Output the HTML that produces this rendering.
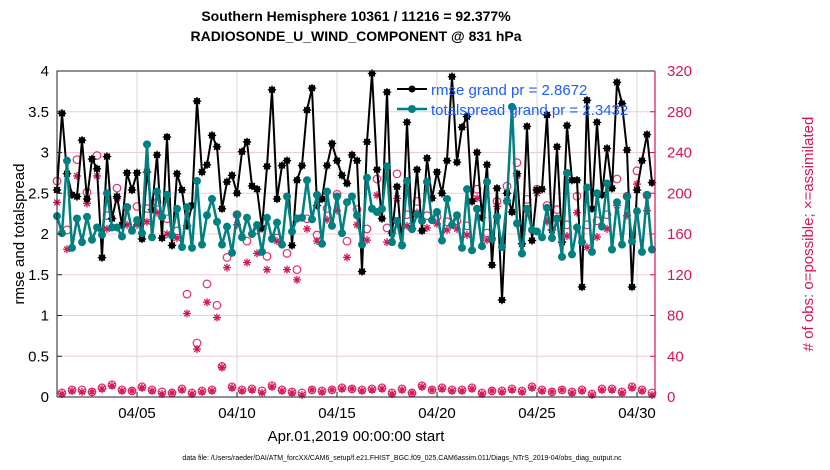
<!DOCTYPE html>
<html><head><meta charset="utf-8"><style>
body{margin:0;background:#fff;}
svg{display:block;font-family:"Liberation Sans",Arial,sans-serif;}
</style></head><body>
<svg id="chart" width="830" height="470" viewBox="0 0 830 470" xmlns="http://www.w3.org/2000/svg">
<rect width="830" height="470" fill="#fff"/>
<g id="grid"></g>
<g id="series"></g>
<g id="axes"></g>
<text x="356" y="21" text-anchor="middle" font-size="14" font-weight="bold">Southern Hemisphere 10361 / 11216 = 92.377%</text>
<text x="356" y="41" text-anchor="middle" font-size="14" font-weight="bold">RADIOSONDE_U_WIND_COMPONENT @ 831 hPa</text>
<text transform="translate(24,234) rotate(-90)" text-anchor="middle" font-size="15">rmse and totalspread</text>
<text transform="translate(813,234) rotate(-90)" text-anchor="middle" font-size="15" fill="#d6145a"># of obs: o=possible; ×=assimilated</text>
<text x="356" y="441" text-anchor="middle" font-size="15">Apr.01,2019 00:00:00 start</text>
<text x="402" y="460" text-anchor="middle" font-size="7">data file: /Users/raeder/DAI/ATM_forcXX/CAM6_setup/f.e21.FHIST_BGC.f09_025.CAM6assim.011/Diags_NTrS_2019-04/obs_diag_output.nc</text>
<g>
<g>
<line x1="397" y1="89" x2="427" y2="89" stroke="#000" stroke-width="2"/><circle cx="412" cy="89" r="3.5" fill="#000"/>
<text x="431" y="95" font-size="15" fill="#1a5cff">rmse grand pr = 2.8672</text></g>
<g>
<line x1="397" y1="109" x2="427" y2="109" stroke="#008080" stroke-width="2.5"/><circle cx="412" cy="109" r="4" fill="#008080"/>
<text x="431" y="115" font-size="15" fill="#1a5cff">totalspread grand pr = 2.3432</text></g>
</g>
</svg>
<script>
const rmse=[2.54,3.48,2.74,2.48,2.46,3.15,2.43,2.92,2.80,1.71,2.95,2.19,2.46,2.11,2.75,2.54,2.75,1.94,2.76,2.30,
2.97,1.95,3.19,1.86,2.74,2.54,2.10,2.35,3.63,2.76,2.85,3.21,3.07,2.31,2.64,2.72,2.50,3.01,3.13,2.59,
2.55,2.07,2.83,3.77,2.43,2.84,2.90,1.86,2.66,2.84,3.52,3.79,2.35,2.43,2.84,3.11,2.90,2.72,2.62,2.97,
2.90,1.54,3.13,3.97,2.79,2.19,3.74,2.01,2.58,1.86,3.37,2.07,2.79,2.04,2.93,2.44,2.76,2.50,2.90,3.93,
2.88,3.31,3.44,2.40,3.00,2.20,2.85,1.62,2.56,1.19,2.50,2.27,2.74,1.88,3.32,1.92,2.54,2.55,3.46,2.05,
3.07,1.90,3.33,2.66,2.66,1.35,3.64,2.31,3.37,2.48,3.05,2.56,3.86,3.60,3.03,1.35,2.54,2.90,3.22,2.63];
const spread=[2.22,2.01,2.90,1.83,2.19,1.90,2.21,1.93,2.08,1.99,2.50,2.08,2.08,1.97,2.33,2.04,2.17,2.01,3.10,1.96,
2.52,2.21,2.48,1.98,2.31,1.84,2.33,1.83,2.65,1.87,2.23,2.43,2.15,1.87,2.09,1.77,2.24,1.96,2.20,2.00,
2.11,1.78,2.20,1.94,2.14,1.87,2.46,2.03,2.19,2.20,2.66,2.18,2.48,1.88,2.52,2.10,2.46,2.01,2.39,2.46,
2.23,1.87,2.69,2.31,2.27,2.31,2.83,1.90,2.16,1.86,2.65,2.06,2.24,2.16,2.64,2.17,2.27,1.92,2.43,2.11,
2.23,1.83,2.55,1.80,2.31,1.85,2.64,1.94,2.21,1.84,2.40,3.56,2.13,1.76,2.31,2.05,2.03,1.96,2.32,1.95,
2.19,1.72,2.75,1.75,2.08,1.90,2.57,1.78,2.50,2.09,2.62,1.81,2.39,1.87,2.46,1.91,2.28,1.78,2.48,1.81];
const possible=[212,4,164,7,233,7,201,5,237,9,178,12,205,7,186,6,187,10,185,7,
191,5,175,4,163,8,101,4,53,6,111,7,90,30,137,10,179,7,153,8,
164,6,138,11,156,7,141,5,125,4,175,7,159,6,185,7,199,9,153,8,
184,7,165,8,214,9,166,4,219,8,179,4,192,11,178,7,177,9,172,7,
173,7,168,9,204,4,161,6,192,6,207,8,230,6,194,10,204,7,188,5,
184,7,169,5,197,7,169,3,173,8,179,8,214,5,197,10,222,7,198,4];
const assimilated=[191,3,145,6,217,5,190,5,217,8,165,11,195,6,169,6,169,9,172,6,
181,3,160,4,156,7,82,3,47,5,93,6,78,29,127,9,169,6,132,7,
141,4,125,10,153,6,125,4,115,2,165,7,153,5,174,7,183,8,137,8,
169,6,154,7,198,8,152,3,195,7,168,4,181,10,166,7,170,8,164,6,
165,6,159,8,195,3,154,6,187,5,193,7,217,5,184,9,200,6,172,5,
175,7,158,4,181,6,147,2,157,7,165,7,188,4,178,9,209,6,183,2];
const yTicks=[0,0.5,1,1.5,2,2.5,3,3.5,4];
const yTickLabels=["0","0.5","1","1.5","2","2.5","3","3.5","4"];
const y2Ticks=[0,40,80,120,160,200,240,280,320];
const xTickDays=[4,9,14,19,24,29];
const xTickLabels=["04/05","04/10","04/15","04/20","04/25","04/30"];
const stepDays=0.25;

const L=57,R=655,T=71,B=397,XMAX=29.9;
const xs=d=>L+(R-L)*d/XMAX;
const ys=v=>B-(B-T)*v/4;
const y2s=c=>B-(B-T)*c/320;
const NS="http://www.w3.org/2000/svg";
function mk(tag,attrs,parent){const e=document.createElementNS(NS,tag);for(const k in attrs)e.setAttribute(k,attrs[k]);parent.appendChild(e);return e;}
const grid=document.getElementById('grid'),ser=document.getElementById('series'),ax=document.getElementById('axes');

yTicks.forEach((v,i)=>{
  const g=mk('line',{x1:L,x2:R,y1:ys(v),y2:ys(v),stroke:'#f2c9da','stroke-width':1},grid);
  
  
  const t=mk('text',{x:L-8,y:ys(v)+5,'text-anchor':'end','font-size':15},ax);t.textContent=yTickLabels[i];
  
  
  mk('line',{x1:L,x2:L+5,y1:ys(v),y2:ys(v),stroke:'#222'},ax);
});
y2Ticks.forEach(c=>{
  const t=mk('text',{x:R+12,y:y2s(c)+5,'font-size':15,fill:'#d6145a'},ax);t.textContent=String(c);
  
  
  mk('line',{x1:R-5,x2:R,y1:y2s(c),y2:y2s(c),stroke:'#d6145a'},ax);
});
xTickDays.forEach((d,i)=>{
  const g=mk('line',{x1:xs(d),x2:xs(d),y1:T,y2:B,stroke:'#d8d8d8','stroke-width':1},grid);
  
  
  mk('line',{x1:xs(d),x2:xs(d),y1:B,y2:B-5,stroke:'#222'},ax);
  const t=mk('text',{x:xs(d),y:418,'text-anchor':'middle','font-size':15},ax);t.textContent=xTickLabels[i];
  
  
});
const frame=mk('path',{d:`M${L},${B}V${T}H${R}`,fill:'none',stroke:'#222','stroke-width':1},ax);


const xb=mk('line',{x1:L,x2:R,y1:B,y2:B,stroke:'#222'},ax);


const y2l=mk('line',{x1:R,x2:R,y1:T,y2:B,stroke:'#d6145a','stroke-width':1.2},ax);



function star(x,y,s,col,w,parent){
  let d='';for(let k=0;k<4;k++){const a=k*Math.PI/4;const dx=s*Math.cos(a),dy=s*Math.sin(a);d+=`M${x-dx},${y-dy}L${x+dx},${y+dy}`;}
  return mk('path',{d,stroke:col,'stroke-width':w,fill:'none'},parent);
}
possible.forEach((c,i)=>{
  const m=mk('circle',{cx:xs(i*stepDays),cy:y2s(c),r:3.8,fill:'none',stroke:'#e0306a','stroke-width':1.2},ser);
  
  
});
assimilated.forEach((c,i)=>{
  const m=star(xs(i*stepDays),y2s(c),4,'#d6145a',1.3,ser);
  
  
});
const rl=mk('polyline',{points:rmse.map((v,i)=>xs(i*stepDays)+','+ys(v)).join(' '),fill:'none',stroke:'#000','stroke-width':2},ser);


rmse.forEach((v,i)=>{
  const m=mk('circle',{cx:xs(i*stepDays),cy:ys(v),r:3.3,fill:'#000'},ser);
  
  
  star(xs(i*stepDays),ys(v),4.2,'#000',1.2,ser);
});
const sl=mk('polyline',{points:spread.map((v,i)=>xs(i*stepDays)+','+ys(v)).join(' '),fill:'none',stroke:'#008080','stroke-width':2.5},ser);


spread.forEach((v,i)=>{
  const m=mk('circle',{cx:xs(i*stepDays),cy:ys(v),r:4,fill:'#008080'},ser);
  
  
});
</script>
</body></html>
